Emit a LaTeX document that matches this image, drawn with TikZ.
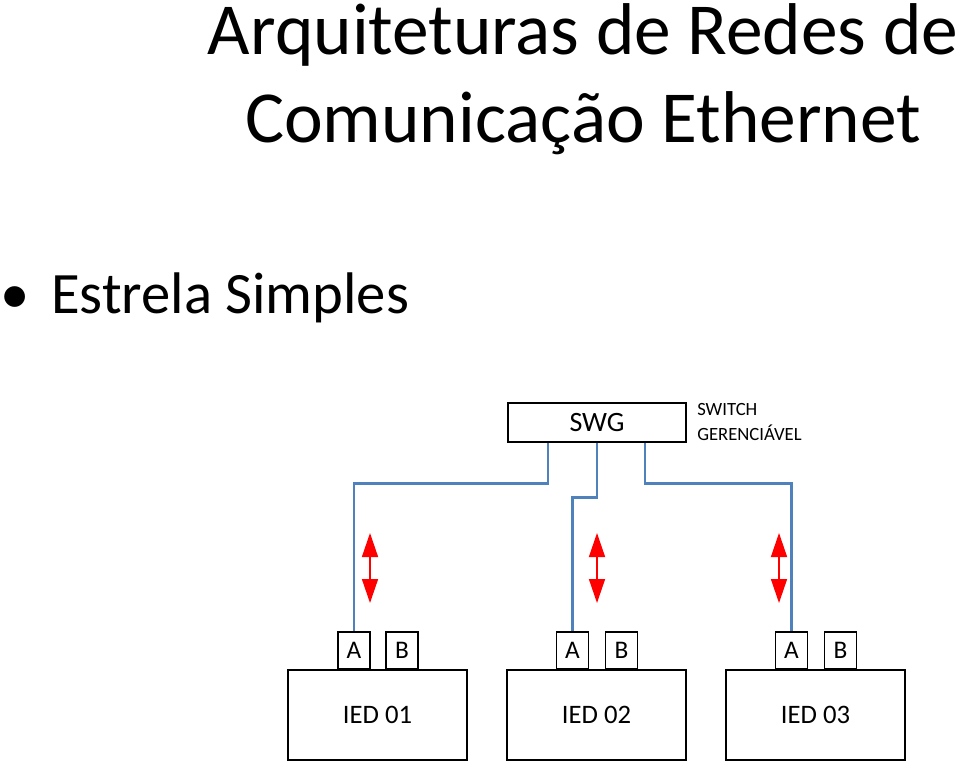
\documentclass[tikz,border=0pt]{standalone}
\usepackage{fontspec}
\setmainfont{Carlito}
\usetikzlibrary{arrows.meta,positioning,calc}
\definecolor{linkblue}{RGB}{79,129,189}
\tikzset{box/.style={draw, line width=1.2pt, inner sep=0pt},
  port/.style={box, minimum width=24pt, minimum height=27.75pt, font=\fontsize{19}{23}\selectfont},
  ied/.style={box, minimum width=134.25pt, minimum height=67.5pt, font=\fontsize{20}{24}\selectfont},
  link/.style={draw=linkblue, line width=2.2pt},
  dbl/.style={draw=red, fill=red, line width=1.1pt, {Triangle[width=12pt,length=18pt]}-{Triangle[width=12pt,length=18pt]}}}

\begin{document}
\begin{tikzpicture}[x=0.75pt, y=-0.75pt]
        \useasboundingbox (0,0) rectangle (959,764);
        % title
        \node[anchor=base] (t1) at (583,54) {\fontsize{55}{58}\selectfont Arquiteturas de Redes de};
        \node[anchor=base] (t2) at (583,142) {\fontsize{55}{58}\selectfont Comunicação Ethernet};
        \node[anchor=base west, inner sep=0pt] (bul) at (0,313) {\fontsize{44}{46}\selectfont\textbullet};
        \node[anchor=base west, inner sep=0pt] (sub) at (51,313) {\fontsize{44}{46}\selectfont Estrela Simples};
        % switch
        \node[box, minimum width=133.5pt, minimum height=29.25pt, font=\fontsize{21}{24}\selectfont] (swg) at (597,422.5) {SWG};
        \node[anchor=north west, inner sep=0pt, align=left, font=\fontsize{14}{18.75}\selectfont] (swlbl) at (697,403) {SWITCH\\GERENCIÁVEL};
        % IEDs
        \node[ied] (ied1) at (377.5,715) {IED 01};
        \node[ied] (ied2) at (596.5,715) {IED 02};
        \node[ied] (ied3) at (815.5,715) {IED 03};
        \node[port, anchor=south] (a1) at (354,670) {A};
        \node[port, anchor=south] (b1) at (402,670) {B};
        \node[port, anchor=south] (a2) at (572.5,670) {A};
        \node[port, anchor=south] (b2) at (621.5,670) {B};
        \node[port, anchor=south] (a3) at (791.5,670) {A};
        \node[port, anchor=south] (b3) at (840.5,670) {B};
        % links
        \coordinate (s1) at ($(swg.south)+(-49,0)$);
        \coordinate (s2) at (swg.south);
        \coordinate (s3) at ($(swg.south)+(48,0)$);
        \draw[link] (s1) -- ++(0,41) -| (a1.north);
        \draw[link] (s2) -- ++(0,55) -| (a2.north);
        \draw[link] (s3) -- ++(0,41) -| (a3.north);
        % data flow
        \draw[dbl] (370,533) -- (370,603);
        \draw[dbl] (597,533) -- (597,603);
        \draw[dbl] (779,533) -- (779,603);
    \end{tikzpicture}
\end{document}
